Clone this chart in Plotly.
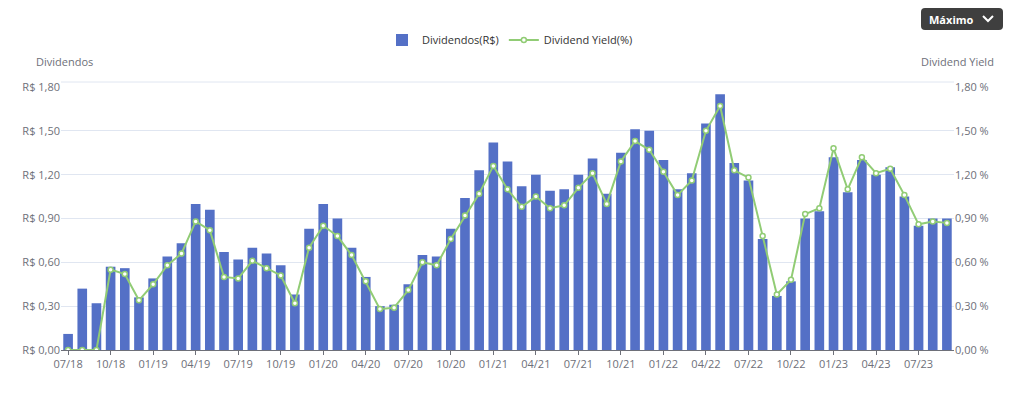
import plotly.graph_objects as go

months = ["07/18","08/18","09/18","10/18","11/18","12/18",
          "01/19","02/19","03/19","04/19","05/19","06/19","07/19","08/19","09/19","10/19","11/19","12/19",
          "01/20","02/20","03/20","04/20","05/20","06/20","07/20","08/20","09/20","10/20","11/20","12/20",
          "01/21","02/21","03/21","04/21","05/21","06/21","07/21","08/21","09/21","10/21","11/21","12/21",
          "01/22","02/22","03/22","04/22","05/22","06/22","07/22","08/22","09/22","10/22","11/22","12/22",
          "01/23","02/23","03/23","04/23","05/23","06/23","07/23","08/23","09/23"]

dividendos = [0.11,0.42,0.32,0.57,0.56,0.36,
              0.49,0.64,0.73,1.00,0.96,0.67,0.62,0.70,0.66,0.58,0.38,0.83,
              1.00,0.90,0.70,0.50,0.30,0.31,0.45,0.65,0.64,0.83,1.04,1.23,
              1.42,1.29,1.12,1.20,1.09,1.10,1.20,1.31,1.07,1.35,1.51,1.50,
              1.30,1.10,1.21,1.55,1.75,1.28,1.16,0.76,0.37,0.47,0.90,0.95,
              1.32,1.08,1.30,1.20,1.25,1.05,0.85,0.90,0.90]

dy = [0.00,0.00,0.00,0.55,0.52,0.34,
      0.45,0.58,0.66,0.88,0.82,0.50,0.49,0.61,0.56,0.51,0.32,0.70,
      0.85,0.78,0.65,0.47,0.28,0.29,0.41,0.60,0.58,0.76,0.92,1.07,
      1.26,1.10,0.98,1.05,0.97,0.99,1.11,1.21,1.00,1.29,1.43,1.37,
      1.22,1.06,1.16,1.50,1.67,1.23,1.18,0.78,0.38,0.48,0.93,0.97,
      1.38,1.10,1.32,1.21,1.24,1.06,0.86,0.88,0.87]

tick_labels = months[::3]
y_ticks = [0, 0.3, 0.6, 0.9, 1.2, 1.5, 1.8]
y_left_text = ["R$ 0,00", "R$ 0,30", "R$ 0,60", "R$ 0,90", "R$ 1,20", "R$ 1,50", "R$ 1,80"]
y_right_text = ["0,00 %", "0,30 %", "0,60 %", "0,90 %", "1,20 %", "1,50 %", "1,80 %"]

FONT = "Open Sans, Noto Sans, sans-serif"
GRAY = "#6e7079"

fig = go.Figure()
fig.add_trace(go.Bar(x=months, y=dividendos, name="Dividendos(R$)",
                     marker=dict(color="#5470c6", line=dict(width=0)),
                     yaxis="y"))
fig.add_trace(go.Scatter(x=months, y=dy, name="Dividend Yield(%)", mode="lines+markers",
                         line=dict(color="#91cc75", width=2),
                         marker=dict(symbol="circle", size=5, color="white",
                                     line=dict(color="#91cc75", width=1.5)),
                         yaxis="y2"))

# page has an 8px body margin: work in screen pixels and subtract it
O = 8
W, H = 1024 - O, 393 - O
L, R, T, B = 61 - O, 1024 - 954, 87 - O, 393 - 350
pw, ph = W - L - R, H - T - B

def px(x):
    return (x - O - L) / pw

def py(y):
    return (H - B - (y - O)) / ph

fig.update_layout(
    width=W, height=H,
    margin=dict(l=L, r=R, t=T, b=B, autoexpand=False),
    paper_bgcolor="white", plot_bgcolor="white",
    font=dict(family=FONT, size=11, color=GRAY),
    bargap=0.32,
    showlegend=True,
    legend=dict(orientation="h", xref="container", yref="container",
                x=(510 - O) / W, xanchor="center", y=1 - (40 - O) / H, yanchor="middle",
                font=dict(size=11, color="#333"), bgcolor="rgba(0,0,0,0)"),
    xaxis=dict(type="category", categoryorder="array", categoryarray=months,
               range=[-0.5, len(months) - 0.5], automargin=False,
               tickmode="array", tickvals=tick_labels, ticktext=tick_labels,
               showline=True, linecolor="#6e7079", linewidth=1,
               ticks="outside", ticklen=4, tickcolor="#6e7079",
               showgrid=False, tickfont=dict(size=11, color=GRAY)),
    yaxis=dict(range=[0, 1.8], tickmode="array", tickvals=y_ticks, ticktext=y_left_text,
               automargin=False,
               showgrid=True, gridcolor="#e0e6f1", zeroline=False, showline=False,
               tickfont=dict(size=11, color=GRAY), ticks=""),
    yaxis2=dict(range=[0, 1.8], tickmode="array", tickvals=y_ticks, ticktext=y_right_text,
                automargin=False,
                overlaying="y", side="right", showgrid=False, zeroline=False,
                showline=False, ticks="",
                tickfont=dict(size=11, color=GRAY)),
)

fig.add_annotation(text="Dividendos", xref="paper", yref="paper", x=px(34), y=py(62),
                   xanchor="left", yanchor="middle", showarrow=False,
                   font=dict(size=11, color=GRAY))
fig.add_annotation(text="Dividend Yield", xref="paper", yref="paper", x=px(919), y=py(62),
                   xanchor="left", yanchor="middle", showarrow=False,
                   font=dict(size=11, color=GRAY))

# faint top border line
fig.add_shape(type="line", xref="paper", yref="paper", x0=0, x1=1, y0=py(82), y1=py(82),
              line=dict(color="#e0e6f1", width=1))

# "Máximo" dropdown button (rounded rectangle)
bx0, bx1, by0, by1, r = 921, 1003, 8, 30, 4
btn_path = (f"M {px(bx0 + r)} {py(by0)} L {px(bx1 - r)} {py(by0)} "
            f"Q {px(bx1)} {py(by0)} {px(bx1)} {py(by0 + r)} "
            f"L {px(bx1)} {py(by1 - r)} Q {px(bx1)} {py(by1)} {px(bx1 - r)} {py(by1)} "
            f"L {px(bx0 + r)} {py(by1)} Q {px(bx0)} {py(by1)} {px(bx0)} {py(by1 - r)} "
            f"L {px(bx0)} {py(by0 + r)} Q {px(bx0)} {py(by0)} {px(bx0 + r)} {py(by0)} Z")
fig.add_shape(type="path", xref="paper", yref="paper", path=btn_path,
              fillcolor="#3f3f3f", line=dict(width=0), layer="above")
fig.add_annotation(text="<b>Máximo</b>", xref="paper", yref="paper", x=px(927), y=py(19),
                   xanchor="left", yanchor="middle", showarrow=False,
                   font=dict(size=11, color="white"))
fig.add_shape(type="path", xref="paper", yref="paper",
              path=f"M {px(983)} {py(16)} L {px(988)} {py(21)} L {px(993)} {py(16)}",
              line=dict(color="white", width=2), layer="above")

fig.write_html("out.html")
